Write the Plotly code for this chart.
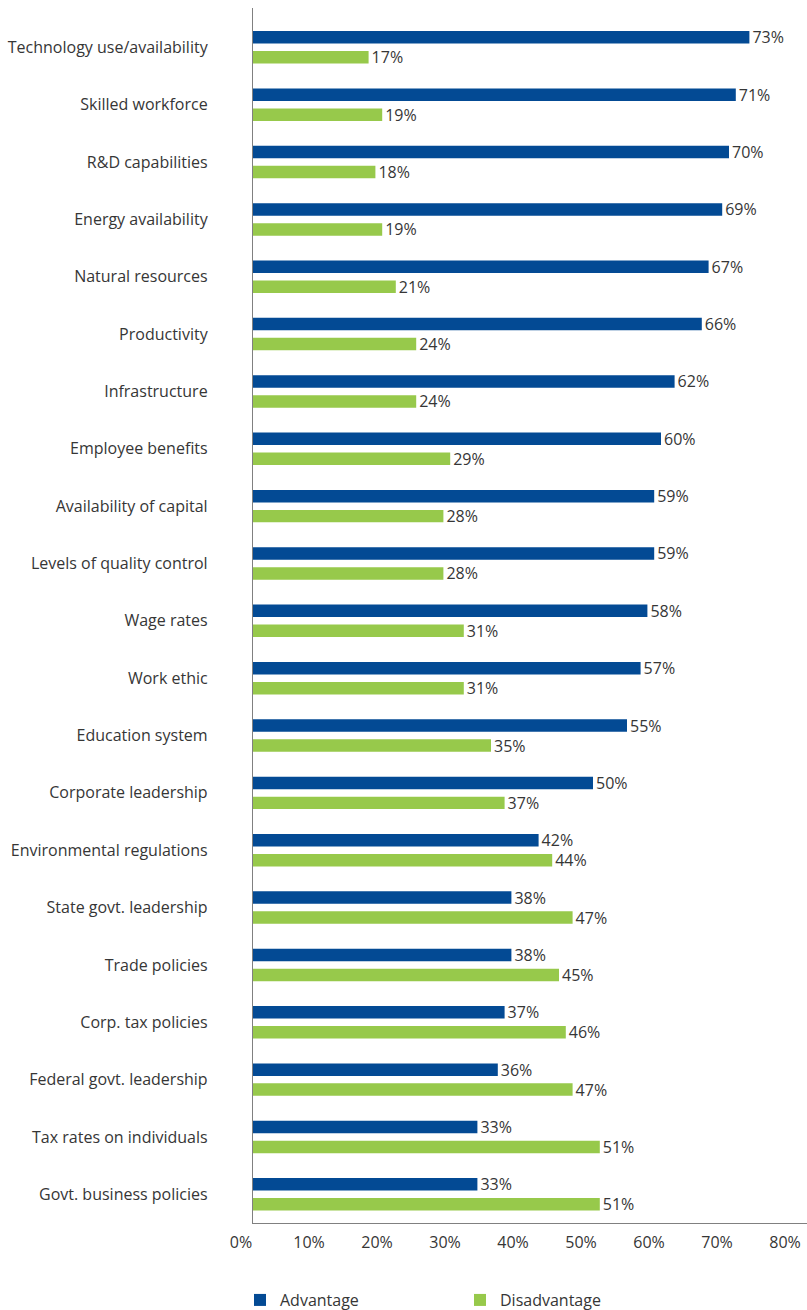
import plotly.graph_objects as go

categories = [
    "Technology use/availability",
    "Skilled workforce",
    "R&D capabilities",
    "Energy availability",
    "Natural resources",
    "Productivity",
    "Infrastructure",
    "Employee benefits",
    "Availability of capital",
    "Levels of quality control",
    "Wage rates",
    "Work ethic",
    "Education system",
    "Corporate leadership",
    "Environmental regulations",
    "State govt. leadership",
    "Trade policies",
    "Corp. tax policies",
    "Federal govt. leadership",
    "Tax rates on individuals",
    "Govt. business policies",
]
advantage = [73, 71, 70, 69, 67, 66, 62, 60, 59, 59, 58, 57, 55, 50, 42, 38, 38, 37, 36, 33, 33]
disadvantage = [17, 19, 18, 19, 21, 24, 24, 29, 28, 28, 31, 31, 35, 37, 44, 47, 45, 46, 47, 51, 51]
x_ticks = [0, 10, 20, 30, 40, 50, 60, 70, 80]

BLUE = "#034A94"
GREEN = "#97C94B"
TEXT = "#363636"
FONT = "Open Sans"


def pct(values):
    return [f"{v}%" for v in values]


fig = go.Figure()
for name, values, color in [("Advantage", advantage, BLUE), ("Disadvantage", disadvantage, GREEN)]:
    fig.add_trace(go.Bar(
        name=name, y=categories, x=values, orientation="h",
        marker=dict(color=color, line=dict(width=0)),
        text=pct(values), textposition="outside", cliponaxis=False,
        constraintext="none",
        textfont=dict(size=16, color=TEXT, family=FONT),
        hoverinfo="y+text",
    ))

fig.update_layout(
    width=807, height=1310,
    margin=dict(l=253, r=0, t=8, b=87, autoexpand=False),
    paper_bgcolor="white", plot_bgcolor="white",
    barmode="group", bargap=0.303, bargroupgap=0.375,
    font=dict(family=FONT, size=16, color=TEXT),
    showlegend=True,
    legend=dict(
        orientation="h", x=-0.0235, xanchor="left", y=-0.0634, yanchor="middle",
        entrywidth=175, entrywidthmode="pixels",
        font=dict(size=16, color=TEXT, family=FONT),
        traceorder="normal",
    ),
)
fig.update_xaxes(
    range=[0, 81.47], tickvals=x_ticks, ticktext=pct(x_ticks),
    showgrid=False, zeroline=False, showline=True, linecolor="#808080", linewidth=1.3,
    ticks="outside", ticklen=5, tickcolor="rgba(0,0,0,0)", ticklabelshift=-12,
    tickfont=dict(size=16, color=TEXT, family=FONT), fixedrange=True,
)
fig.update_yaxes(
    type="category", categoryorder="array", categoryarray=categories,
    range=[20.5, -0.686],
    showgrid=False, zeroline=False, showline=True, linecolor="#808080", linewidth=1.3,
    ticks="outside", ticklen=41, tickcolor="rgba(0,0,0,0)",
    tickfont=dict(size=16, color=TEXT, family=FONT), fixedrange=True,
)

fig.write_html("out.html")
